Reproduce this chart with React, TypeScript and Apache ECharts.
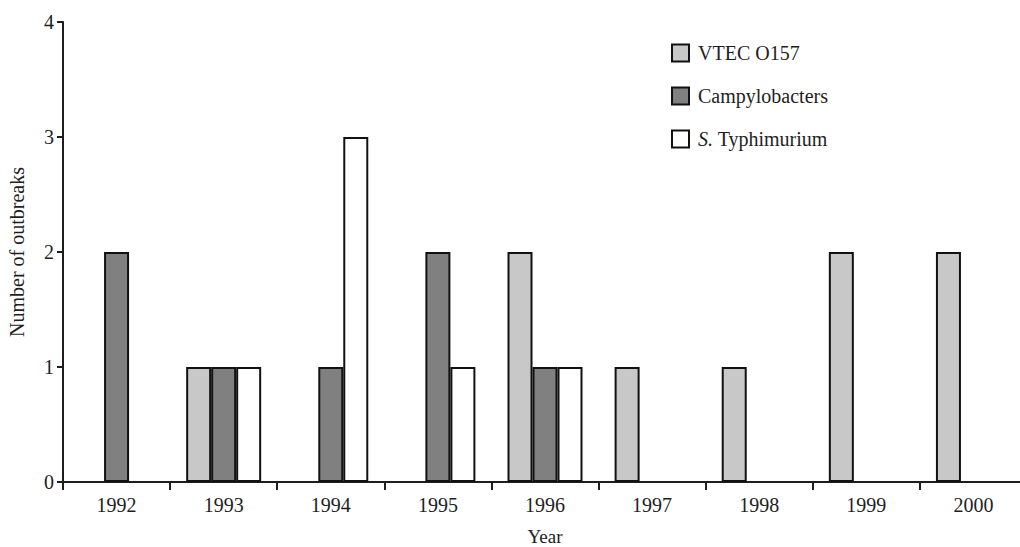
import React, { useEffect, useRef } from "react";
import * as echarts from "echarts";

const years = ["1992", "1993", "1994", "1995", "1996", "1997", "1998", "1999", "2000"];
const vtecO157 = [0, 1, 0, 0, 2, 1, 1, 2, 2];
const campylobacters = [2, 1, 1, 2, 1, 0, 0, 0, 0];
const typhimurium = [0, 1, 3, 1, 1, 0, 0, 0, 0];
const seriesNames = ["VTEC O157", "Campylobacters", "S. Typhimurium"];
const seriesColors = ["#c8c8c8", "#808080", "#ffffff"];
const yTicks = [0, 1, 2, 3, 4];

const FONT = "'Liberation Serif', 'Times New Roman', serif";
const INK = "#1e1e1e";

export default function App() {
  const ref = useRef<HTMLDivElement>(null);
  useEffect(() => {
    if (!ref.current) return;
    const chart = echarts.init(ref.current, undefined, { renderer: "svg" });
    const values = [vtecO157, campylobacters, typhimurium];
    chart.setOption({
      animation: false,
      backgroundColor: "#ffffff",
      textStyle: { fontFamily: FONT, color: INK },
      grid: {
        left: 63,
        right: -7,
        top: 22,
        bottom: 65,
        containLabel: false,
        outerBoundsMode: "none",
      },
      legend: {
        orient: "vertical",
        left: 666,
        top: 38,
        itemWidth: 17,
        itemHeight: 17,
        itemGap: 23,
        icon: "rect",
        data: seriesNames,
        textStyle: {
          fontFamily: FONT,
          fontSize: 20,
          color: INK,
          padding: [0, 0, 0, 4],
          rich: {
            i: { fontFamily: FONT, fontSize: 20, fontStyle: "italic", color: INK },
            n: { fontFamily: FONT, fontSize: 20, color: INK },
          },
        },
        formatter: (name: string) =>
          name.startsWith("S. ") ? "{i|S.}{n| " + name.slice(3) + "}" : name,
      },
      xAxis: {
        type: "category",
        data: years,
        name: "Year",
        nameLocation: "middle",
        nameGap: 45,
        nameTextStyle: { fontFamily: FONT, fontSize: 19, color: INK },
        axisLine: { lineStyle: { color: INK, width: 2 } },
        axisTick: { show: true, length: 8, lineStyle: { color: INK, width: 2 } },
        axisLabel: { fontFamily: FONT, fontSize: 20, color: INK, margin: 13 },
        splitLine: { show: false },
      },
      yAxis: {
        type: "value",
        min: yTicks[0],
        max: yTicks[yTicks.length - 1],
        interval: 1,
        name: "Number of outbreaks",
        nameLocation: "middle",
        nameGap: 36,
        nameTextStyle: { fontFamily: FONT, fontSize: 20, color: INK },
        axisLine: { show: true, lineStyle: { color: INK, width: 2 } },
        axisTick: { show: true, length: 6, lineStyle: { color: INK, width: 2 } },
        axisLabel: { fontFamily: FONT, fontSize: 20, color: INK, margin: 9 },
        splitLine: { show: false },
      },
      series: seriesNames.map((name, i) => ({
        name,
        type: "bar",
        barWidth: 25,
        barGap: "0%",
        data: values[i].map((v) => (v === 0 ? null : v)),
        itemStyle: { color: seriesColors[i], borderColor: "#111111", borderWidth: 2 },
      })),
    });
    return () => chart.dispose();
  }, []);
  return (
    <div
      ref={ref}
      style={{ position: "absolute", left: 0, top: 0, width: 1020, height: 547 }}
    />
  );
}
